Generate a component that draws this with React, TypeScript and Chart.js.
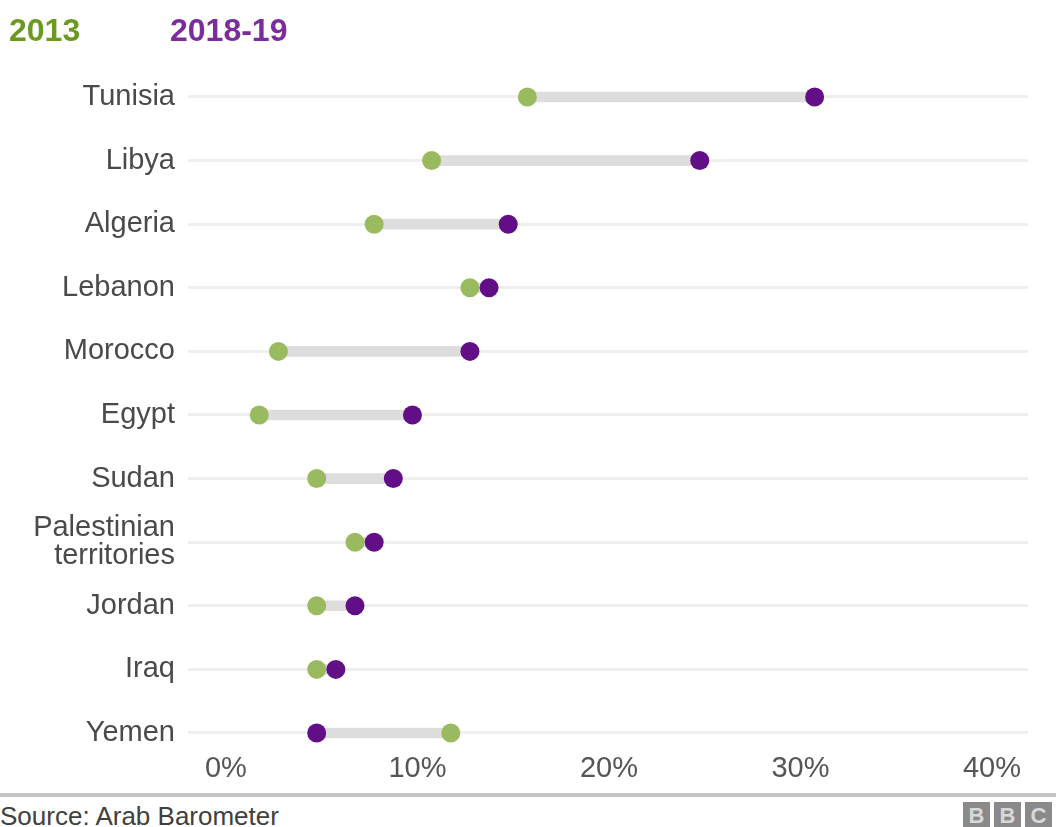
import React, { useEffect, useRef } from 'react';
import { Chart, registerables } from 'chart.js';

Chart.register(...registerables);

const countries: (string | string[])[] = [
  'Tunisia',
  'Libya',
  'Algeria',
  'Lebanon',
  'Morocco',
  'Egypt',
  'Sudan',
  ['Palestinian', 'territories'],
  'Jordan',
  'Iraq',
  'Yemen',
];
const values2013 = [16, 11, 8, 13, 3, 2, 5, 7, 5, 5, 12];
const values2019 = [31, 25, 15, 14, 13, 10, 9, 8, 7, 6, 5];
const xTickValues = [0, 10, 20, 30, 40];
const seriesNames = ['2013', '2018-19'];

const GREEN_DOT = '#9aba5f';
const PURPLE_DOT = '#620e87';
const GREEN_TEXT = '#6a9a1f';
const PURPLE_TEXT = '#7b2b9c';
const FONT = '"Liberation Sans", Arial, Helvetica, sans-serif';

export default function App() {
  const canvasRef = useRef<HTMLCanvasElement | null>(null);

  useEffect(() => {
    const canvas = canvasRef.current;
    if (!canvas) return;
    const idx = countries.map((_, i) => i);
    const chart = new Chart(canvas, {
      type: 'bar',
      data: {
        datasets: [
          {
            type: 'line',
            label: seriesNames[1],
            data: idx.map((i) => ({ x: values2019[i], y: i })),
            showLine: false,
            pointRadius: 9.5,
            pointHoverRadius: 9.5,
            pointBorderWidth: 0,
            pointBackgroundColor: PURPLE_DOT,
            borderColor: PURPLE_DOT,
            order: 1,
          } as any,
          {
            type: 'line',
            label: seriesNames[0],
            data: idx.map((i) => ({ x: values2013[i], y: i })),
            showLine: false,
            pointRadius: 9.5,
            pointHoverRadius: 9.5,
            pointBorderWidth: 0,
            pointBackgroundColor: GREEN_DOT,
            borderColor: GREEN_DOT,
            order: 2,
          } as any,
          {
            type: 'bar',
            label: 'change',
            data: idx.map((i) => ({ x: [values2013[i], values2019[i]], y: i })),
            backgroundColor: '#dddddd',
            borderWidth: 0,
            barThickness: 10,
            order: 3,
          } as any,
        ],
      },
      options: {
        indexAxis: 'y',
        animation: false,
        responsive: false,
        maintainAspectRatio: false,
        events: [],
        layout: { padding: { left: 0, right: 28, top: 65, bottom: 0 } },
        plugins: {
          legend: { display: false },
          tooltip: { enabled: false },
        },
        scales: {
          x: {
            type: 'linear',
            min: -1.72,
            max: 42.14,
            offset: false,
            grid: { display: false, drawTicks: false },
            border: { display: false },
            afterBuildTicks: (scale: any) => {
              scale.ticks = xTickValues.map((v) => ({ value: v }));
            },
            afterFit: (scale: any) => {
              scale.height = 38;
            },
            ticks: {
              padding: 0,
              labelOffset: 5,
              maxRotation: 0,
              autoSkip: false,
              color: '#555555',
              font: { family: FONT, size: 29 },
              callback: (v: any) => `${v}%`,
            },
          },
          y: {
            type: 'linear',
            reverse: true,
            min: -0.503,
            max: 10.299,
            offset: false,
            border: { display: false },
            grid: { color: '#eeeeee', lineWidth: 3, drawTicks: false, offset: false },
            afterBuildTicks: (scale: any) => {
              scale.ticks = countries.map((_, i) => ({ value: i }));
            },
            afterFit: (scale: any) => {
              scale.width = 188;
            },
            ticks: {
              padding: 13,
              autoSkip: false,
              color: '#4a4a4a',
              font: { family: FONT, size: 29, lineHeight: 0.97 },
              callback: (v: any) => countries[Math.round(Number(v))] ?? '',
            },
          },
        },
      } as any,
    });
    return () => chart.destroy();
  }, []);

  const legendStyle: React.CSSProperties = {
    position: 'absolute',
    top: 12,
    fontFamily: FONT,
    fontWeight: 'bold',
    fontSize: 32,
    lineHeight: '36px',
  };
  const boxStyle: React.CSSProperties = {
    position: 'absolute',
    top: 802,
    width: 27,
    height: 27,
    background: '#8a8a8a',
    color: '#d8d8d8',
    fontFamily: FONT,
    fontWeight: 'bold',
    fontSize: 22,
    lineHeight: '27px',
    textAlign: 'center',
  };

  return (
    <div
      style={{
        position: 'fixed',
        left: 0,
        top: 0,
        width: 1056,
        height: 827,
        background: '#ffffff',
        overflow: 'hidden',
      }}
    >
      <canvas
        ref={canvasRef}
        width={1056}
        height={790}
        style={{ position: 'absolute', left: 0, top: 0, width: 1056, height: 790 }}
      />
      <div style={{ ...legendStyle, left: 9, color: GREEN_TEXT }}>{seriesNames[0]}</div>
      <div style={{ ...legendStyle, left: 170, color: PURPLE_TEXT }}>{seriesNames[1]}</div>
      <div
        style={{
          position: 'absolute',
          left: 0,
          top: 793,
          width: 1056,
          height: 4,
          background: '#c4c4c4',
        }}
      />
      <div
        style={{
          position: 'absolute',
          left: 0,
          top: 801,
          fontFamily: FONT,
          fontSize: 26,
          lineHeight: '30px',
          color: '#404040',
          whiteSpace: 'nowrap',
        }}
      >
        Source: Arab Barometer
      </div>
      <div style={{ ...boxStyle, left: 963 }}>B</div>
      <div style={{ ...boxStyle, left: 994 }}>B</div>
      <div style={{ ...boxStyle, left: 1025 }}>C</div>
    </div>
  );
}
